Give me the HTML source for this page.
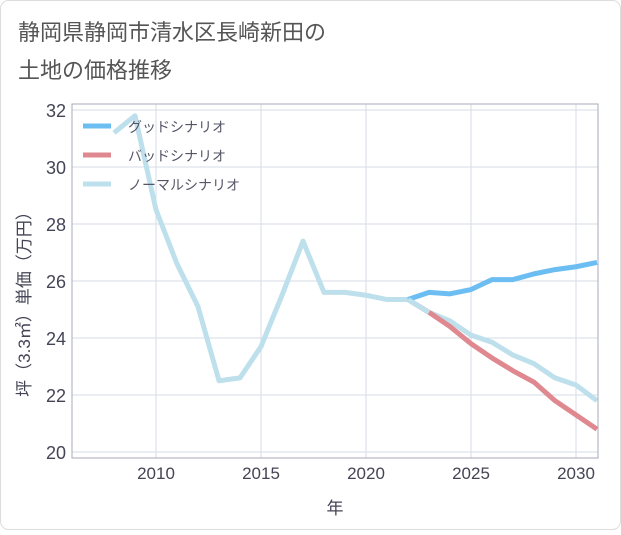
<!DOCTYPE html>
<html><head><meta charset="utf-8"><style>
body{margin:0;background:#fff;font-family:"Liberation Sans","Noto Sans CJK JP",sans-serif;}
#wrap{position:relative;width:621px;height:530px;}
</style></head><body><div id="wrap">
<svg width="621" height="530" xmlns="http://www.w3.org/2000/svg" id="svg">
<rect x="0.5" y="0.5" width="620" height="529" rx="8" fill="#fff" stroke="#ddd"/>
<text x="18" y="40" font-size="22" fill="#555">静岡県静岡市清水区長崎新田の</text>
<text x="18" y="78" font-size="22" fill="#555">土地の価格推移</text>
<g id="grid"></g>
<g id="series" clip-path="url(#clip)"></g>
<defs><clipPath id="clip"><rect x="72" y="104" width="526" height="354"/></clipPath></defs>
<rect x="72" y="104" width="526" height="354" fill="none" stroke="#aab"/>
<g id="legend"></g>
<text x="335" y="514" font-size="17" fill="#445" text-anchor="middle">年</text>
<text transform="translate(30,300) rotate(-90)" font-size="17" fill="#445" text-anchor="middle">坪（3.3㎡）単価（万円）</text>
</svg></div>
<script>
const years=[2008,2009,2010,2011,2012,2013,2014,2015,2016,2017,2018,2019,2020,2021,2022,2023,2024,2025,2026,2027,2028,2029,2030,2031];
const normal=[31.2,31.8,28.5,26.6,25.1,22.5,22.6,23.7,25.5,27.4,25.6,25.6,25.5,25.35,25.35,24.9,24.6,24.1,23.85,23.4,23.1,22.6,22.35,21.8];
const futureYears=[2022,2023,2024,2025,2026,2027,2028,2029,2030,2031];
const good=[25.35,25.6,25.55,25.7,26.05,26.05,26.25,26.4,26.5,26.65];
const bad=[25.35,24.9,24.4,23.8,23.3,22.85,22.45,21.8,21.3,20.8];
const yTicks=[20,22,24,26,28,30,32];
const xTicks=[2010,2015,2020,2025,2030];
const NS='http://www.w3.org/2000/svg';
const X=y=>156+(y-2010)*21;
const Y=v=>167+(30-v)*28.5;
function mk(t,a,p){const e=document.createElementNS(NS,t);for(const k in a)e.setAttribute(k,a[k]);p.appendChild(e);return e;}
const grid=document.getElementById('grid');
yTicks.forEach(v=>{
 const l=mk('line',{x1:72,x2:598,y1:Y(v),y2:Y(v),stroke:'#d5dde6'},grid);
 
 
 const t=mk('text',{x:66,y:Y(v)+7,'font-size':18,fill:'#445','text-anchor':'end'},grid);t.textContent=v;
 
 
});
xTicks.forEach(v=>{
 const l=mk('line',{x1:X(v),x2:X(v),y1:104,y2:458,stroke:'#d5dde6'},grid);
 
 
 const t=mk('text',{x:X(v),y:479,'font-size':17,fill:'#445','text-anchor':'middle'},grid);t.textContent=v;
 
 
});
const ser=document.getElementById('series');
function line(xs,vs,c,name){
 const p=mk('polyline',{points:xs.map((x,i)=>X(x)+','+Y(vs[i])).join(' '),fill:'none',stroke:c,'stroke-width':5,'stroke-linejoin':'round'},ser);
 
 
}
line(years,normal,'#bde0ec','normal-scenario-line');
line(futureYears,bad,'#e0888f','bad-scenario-line');
line(futureYears,good,'#6bbdf2','good-scenario-line');
line(futureYears.slice(0,2),normal.slice(14,16),'#bde0ec','normal-scenario-overlap');
const leg=document.getElementById('legend');
[['グッドシナリオ','#6bbdf2'],['バッドシナリオ','#e0888f'],['ノーマルシナリオ','#bde0ec']].forEach((d,i)=>{
 const y=126+i*29;
 const l=mk('line',{x1:83,x2:111,y1:y,y2:y,stroke:d[1],'stroke-width':5},leg);
 
 
 const t=mk('text',{x:128,y:y+6,'font-size':14,fill:'#556'},leg);t.textContent=d[0];
 
 
});
</script></body></html>
